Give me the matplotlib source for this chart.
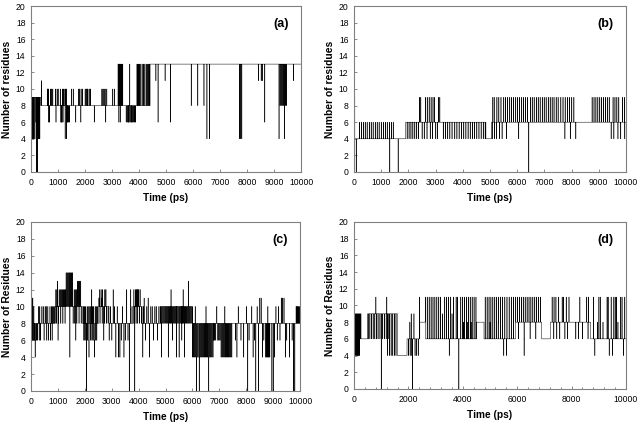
import numpy as np
import matplotlib
matplotlib.use("Agg")
import matplotlib.pyplot as plt
from matplotlib.ticker import MultipleLocator

plt.rcParams['font.family'] = ['Liberation Sans', 'DejaVu Sans']

# ---------------- Panel (a) ----------------
a_base_t = [0, 360, 3200, 3400, 3900, 4420]
a_base_v = [9, 8, 8, 8, 8, 13]
a_spikes = {
    11: [380, 4620, 4960, 8420, 8520, 8560, 9720],
    10: [600, 620, 640, 720, 760, 800, 900, 960, 1000, 1080, 1160, 1200, 1250, 1280, 1300,
         1500, 1560, 1760, 1800, 1850, 1900, 2000, 2040, 2080, 2100, 2150, 2200, 2620, 2660,
         2700, 2740, 2800, 3020, 3080],
    13: [3220, 3240, 3260, 3280, 3310, 3330, 3360, 3390, 3650, 3920, 3950, 3980, 4010,
         4060, 4110, 4160, 4210, 4260, 4300, 4340, 4380, 4410],
    8: [5930, 6170, 6400, 9220, 9260, 9300, 9340, 9420, 9460],
    6: [180, 650, 680, 920, 1100, 1120, 1140, 1180, 1330, 1350, 1380, 1420, 1650, 1840, 2340,
        2760, 3250, 3300, 3520, 3560, 3600, 3620, 3660, 3700, 3720, 3760, 3800, 3830, 3860,
        4700, 5160, 8650],
    4: [20, 40, 60, 80, 100, 140, 260, 280, 300, 320, 1260, 1310, 6510, 6600, 7720, 7760,
        7800, 9180, 9380],
    0: [200, 230],
}

# ---------------- Panel (b) ----------------
b_base_t = [0, 30, 1900, 4850, 5060]
b_base_v = [9, 4, 6, 4, 6]
b_spikes = {
    9: [2400, 2450, 2620, 2690, 2760, 2830, 2900, 2950, 3100, 3150,
        5100, 5150, 5250, 5320, 5400,
        5500, 5570, 5640, 5720, 5790, 5860, 5940, 6010, 6080, 6160, 6230, 6300, 6370, 6480,
        6550, 6620, 6700, 6770, 6840, 6920, 6990, 7060, 7140, 7210, 7280, 7350, 7430, 7500,
        7600, 7680, 7760, 7850, 7920, 8000, 8080, 8150, 8750, 8820, 8890, 8960, 9030, 9100,
        9170, 9240, 9310, 9380, 9450, 9520, 9590, 9660, 9730, 9800, 9870, 9940],
    6: [200, 270, 340, 410, 480, 560, 630, 700, 780, 850, 920, 1000, 1080, 1150, 1220, 1300,
        1370, 1440],
    4: [1950, 2020, 2090, 2160, 2230, 2300, 2370, 2500, 2580, 2680, 2800, 2880, 3000, 3060,
        3280, 3360, 3440, 3520, 3600, 3700, 3780, 3860, 3950, 4030, 4110, 4190, 4270, 4350,
        4430, 4510, 4590, 4670, 4750, 4820, 5080, 5160, 5240, 5350, 5440, 5600, 6050, 7750,
        7950, 8150, 9450, 9550, 9700, 9800, 9950],
    0: [80, 1310, 1620, 6420],
}

# ---------------- Panel (c) ----------------
c_base_t = [0, 900, 1900, 2500, 2900, 3800, 4100, 4800, 6000, 7500, 8700, 8900]
c_base_v = [8, 10, 8, 10, 8, 10, 8, 10, 8, 8, 8, 8]
c_spikes = {
    14: [1300, 1340, 1380, 1420, 1460, 1500, 1540],
    13: [980, 1720, 1760, 1800, 1840, 5850],
    12: [920, 960, 1000, 1040, 1080, 1120, 1160, 1200, 1240, 1280, 1600, 1640, 1680, 2250,
         2350, 2550, 2600, 2650, 2700, 2740, 2780, 3050, 3550, 3700, 3820, 3850, 3880, 3910,
         3940, 3970, 4000, 4050, 4150, 4250, 4400, 4700, 5200, 5300, 5500, 5650],
    11: [30, 60, 2520, 2620, 4200, 4350, 8500, 8550, 9300, 9350, 9400],
    10: [100, 280, 320, 400, 450, 520, 560, 620, 700, 760, 800, 840, 880,
         1900, 1940, 1980, 2020, 2080, 2120, 2180, 2220, 2280, 2320, 2380, 2420, 2460,
         2950, 3000, 3100, 3150, 3200, 3300, 3400, 3450, 3600, 3650, 3750, 4120, 4180, 4300,
         4450, 4500, 4600, 4650, 4750, 6100, 6500, 6900, 7200, 7600, 7700, 7800, 8000, 8100,
         8200, 8300, 8400, 8450, 8750, 8800, 9000, 9100, 9200, 9500, 9600, 9700, 9800, 9850,
         9880, 9910, 9940, 9970],
    8: [940, 1020, 1100, 1180, 1260, 1560, 1620, 1700, 1780, 1860, 2500, 2560, 2640, 2720,
        2800, 2860, 3830, 3900, 3960, 4030, 4820, 4860, 4900, 4940, 4980, 5020, 5060, 5100,
        5140, 5180, 5220, 5260, 5300, 5340, 5380, 5420, 5460, 5500, 5540, 5580, 5620, 5660,
        5700, 5740, 5780, 5820, 5860, 5900, 5940, 5980],
    6: [20, 50, 80, 130, 160, 200, 240, 300, 350, 480, 580, 650, 720, 780, 1000, 1660, 1960,
        2000, 2040, 2100, 2140, 2200, 2260, 2300, 2340, 2400, 2440, 2700, 2900, 3000, 3350,
        3500, 3600, 4250, 4550, 4700, 5250, 5600, 6780, 6820, 6860, 6940, 6980, 7020, 7600,
        7800, 8100, 8300, 8650, 9150, 9250, 9500, 9700],
    4: [150, 1440, 2150, 2350, 3150, 3250, 3300, 3450, 4150, 4400, 4850, 5100, 5400, 5500,
        5700, 6000, 6040, 6080, 6120, 6160, 6200, 6240, 6280, 6320, 6360, 6400, 6440, 6480,
        6520, 6560, 6600, 6640, 6680, 6720, 6760, 7060, 7100, 7140, 7180, 7220, 7260, 7300,
        7340, 7380, 7420, 7460, 7650, 7900, 8250, 8600, 8720, 8750, 8780, 8810, 8840, 8870,
        9050, 9450, 9600, 9800],
    0: [2060, 3650, 3850, 6150, 6250, 6600, 8050, 8350, 8450, 8950, 9000, 9750, 9800],
}

# ---------------- Panel (d) ----------------
d_base_t = [0, 260, 500, 1600, 1950, 2420, 2620, 4500, 4780, 5950, 6900, 7220, 8700]
d_base_v = [9, 6, 9, 4, 6, 8, 6, 8, 6, 8, 6, 8, 6]
d_spikes = {
    11: [800, 1200, 2400, 2620, 2690, 2760, 2830, 2900, 2970, 3040, 3110, 3180, 3330, 3400,
         3470, 3550, 3650, 3750, 3800, 3920, 3990, 4060, 4130, 4200, 4270, 4340, 4410, 4480,
         4820, 4890, 4960, 5030, 5100, 5170, 5240, 5310, 5380, 5450, 5540, 5620, 5700, 5780,
         5860, 5940, 6010, 6080, 6150, 6220, 6290, 6360, 6430, 6500, 6570, 6640, 6710, 6780,
         6850, 7280, 7350, 7420, 7520, 7650, 7700, 7800, 7900, 8300, 8550, 8620, 8800, 8850,
         9000, 9050, 9150, 9300, 9340, 9380, 9450, 9550, 9600, 9650, 9800, 9850, 9900, 9950],
    9: [2100, 2200, 3250, 3600],
    8: [2050, 4020, 4160, 4300, 5000, 5300, 7300, 7600, 8950, 9150, 9500, 9700],
    6: [230, 520, 580, 640, 700, 760, 820, 880, 950, 1050, 1120, 1180, 1250,
        1360, 6040, 6260, 6470, 6680, 7340, 7450, 7560, 7750, 7850, 8150, 8250, 8400, 8600],
    4: [20, 50, 80, 110, 140, 170, 200, 1230, 1300, 1360, 1420, 1480, 1540, 2000,
        2060, 2120, 2240, 2300, 2360, 3500, 5500, 5600, 6250, 8850, 9380, 9500, 9900],
    0: [1000, 2150, 3850],
}

time_ticks_a = [0, 1000, 2000, 3000, 4000, 5000, 6000, 7000, 8000, 9000, 10000]
time_ticks_d = [0, 2000, 4000, 6000, 8000, 10000]
y_ticks = [0, 2, 4, 6, 8, 10, 12, 14, 16, 18, 20]

panels = [
    ("(a)", "Number of residues", a_base_t, a_base_v, a_spikes, time_ticks_a,
     [0.0487, 0.5934, 0.4239, 0.3924]),
    ("(b)", "Number of residues", b_base_t, b_base_v, b_spikes, time_ticks_a,
     [0.5557, 0.5934, 0.4270, 0.3924]),
    ("(c)", "Number of Residues", c_base_t, c_base_v, c_spikes, time_ticks_a,
     [0.0487, 0.0757, 0.4223, 0.3995]),
    ("(d)", "Number of Residues", d_base_t, d_base_v, d_spikes, time_ticks_d,
     [0.5557, 0.0804, 0.4270, 0.3950]),
]

fig = plt.figure(figsize=(6.37, 4.23), dpi=100)
dt = 10
for label, ylab, bt, bv, spikes, xt, pos in panels:
    ax = fig.add_axes(pos)
    t = np.arange(0, 10000 + dt, dt)
    idx = np.searchsorted(np.array(bt), t, side='right') - 1
    y = np.array(bv, dtype=float)[idx]
    for val, times in spikes.items():
        for st in times:
            y[int(round(st / dt))] = val
    ax.plot(t, y, drawstyle='steps-post', color='black', lw=0.35)
    ax.set_xlim(0, 10000)
    ax.set_ylim(0, 20)
    ax.set_xticks(xt)
    ax.set_xticklabels([str(v) for v in xt])
    ax.set_yticks(y_ticks)
    if label == "(d)":
        ax.xaxis.set_minor_locator(MultipleLocator(400))
    ax.tick_params(axis='both', which='both', direction='in', labelsize=6.2, length=2.5,
                   width=0.6, color='#777777')
    ax.tick_params(axis='x', which='both', pad=4)
    ax.tick_params(axis='y', which='both', pad=4)
    ax.tick_params(which='minor', length=1.5)
    for sp in ax.spines.values():
        sp.set_color('#808080')
        sp.set_linewidth(0.8)
    ax.set_xlabel("Time (ps)", fontsize=7.3, fontweight='bold', labelpad=5)
    ax.set_ylabel(ylab, fontsize=7.4, fontweight='bold', labelpad=3)
    ax.text(0.955, 0.93, label, transform=ax.transAxes, ha='right', va='top',
            fontsize=9, fontweight='bold')

fig.savefig("out.png", dpi=100)
